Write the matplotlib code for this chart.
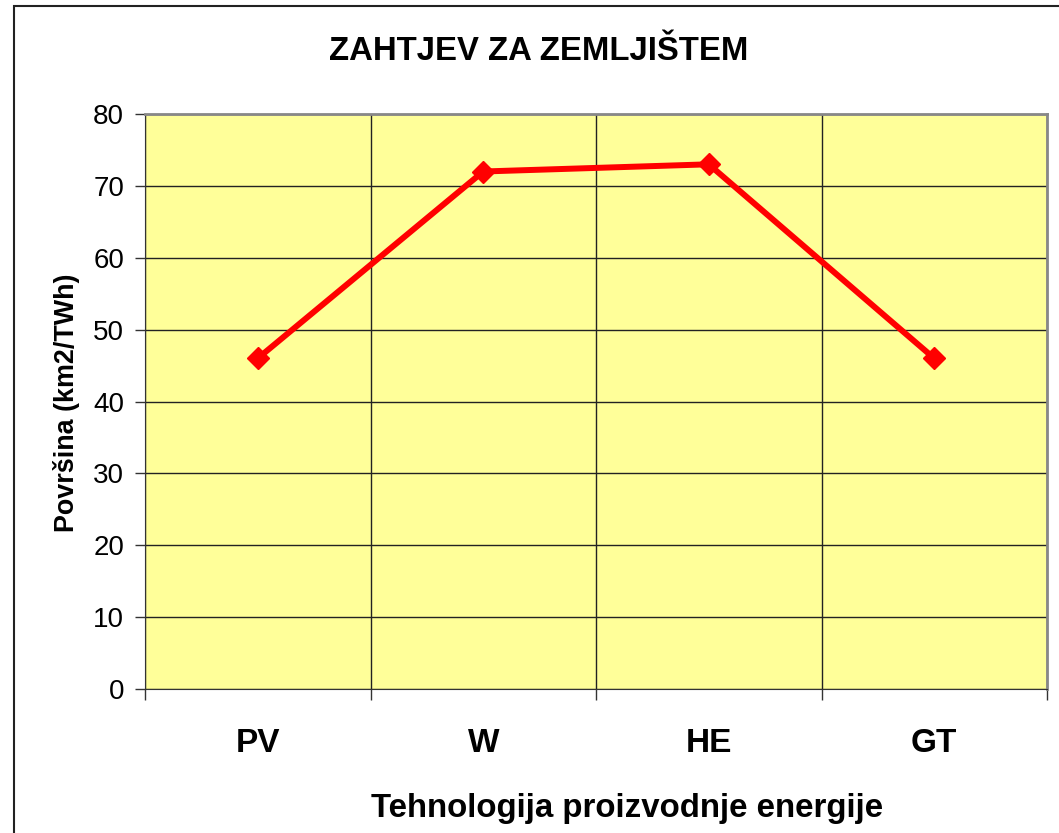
import matplotlib
matplotlib.use('Agg')
from matplotlib import pyplot as plt
from matplotlib.patches import Rectangle

categories = ['PV', 'W', 'HE', 'GT']
values = [46, 72, 73, 46]
y_ticks = [0, 10, 20, 30, 40, 50, 60, 70, 80]

plt.rcParams['font.family'] = ['Liberation Sans', 'DejaVu Sans']

fig = plt.figure(figsize=(10.59, 8.33), dpi=100)
ax = fig.add_axes([145 / 1059, 1 - 689 / 833, 902 / 1059, 575 / 833])
ax.set_facecolor('#FFFF99')

x = list(range(len(categories)))
ax.plot(x, values, color='#FF0000', linewidth=4.3, marker='D',
        markersize=11, markeredgecolor='#FF0000', zorder=3)

ax.set_xlim(-0.5, len(categories) - 0.5)
ax.set_ylim(0, 80)
ax.set_yticks(y_ticks)
ax.set_yticklabels([str(v) for v in y_ticks], fontsize=20)

# category boundaries as major ticks, labels on minor ticks
ax.set_xticks([i - 0.5 for i in range(len(categories) + 1)])
ax.set_xticklabels([])
ax.set_xticks(x, minor=True)
ax.set_xticklabels(categories, minor=True, fontsize=24, fontweight='bold')
ax.tick_params(axis='x', which='minor', length=0, pad=28)
ax.tick_params(axis='x', which='major', length=8, width=1, color='#333333')
ax.tick_params(axis='y', length=7, width=1, color='#333333', pad=8)

ax.grid(True, which='major', color='#222222', linewidth=1)
ax.set_axisbelow(True)

ax.spines['top'].set_color('#888888')
ax.spines['right'].set_color('#888888')
ax.spines['top'].set_linewidth(2)
ax.spines['right'].set_linewidth(2)
ax.spines['left'].set_color('#333333')
ax.spines['bottom'].set_color('#333333')

fig.text(539 / 1059, 1 - 52 / 833, 'ZAHTJEV ZA ZEMLJIŠTEM', ha='center', va='center',
         fontsize=23.7, fontweight='bold')
fig.text(627 / 1059, 1 - 808 / 833, 'Tehnologija proizvodnje energije', ha='center',
         va='center', fontsize=23.8, fontweight='bold')
fig.text(67 / 1059, 1 - 403 / 833, 'Površina (km2/TWh)', ha='center', va='center',
         rotation=90, fontsize=19.4, fontweight='bold')

# outer chart frame
fig.patches.append(Rectangle((14 / 1059, -0.1), 1.2, 1 - 6 / 833 + 0.1,
                             transform=fig.transFigure, fill=False,
                             edgecolor='#222222', linewidth=1.5))

fig.savefig('out.png', dpi=100)
